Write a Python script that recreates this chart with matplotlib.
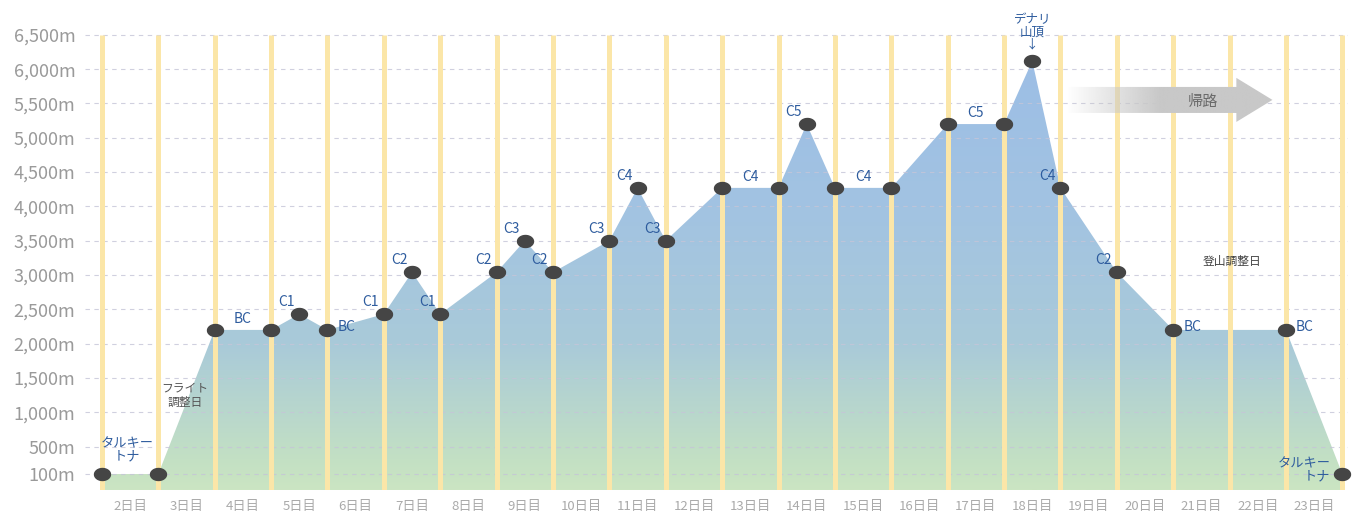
import numpy as np
import matplotlib.pyplot as plt
from matplotlib.path import Path
from matplotlib.patches import Polygon
from matplotlib.colors import LinearSegmentedColormap, to_rgb

plt.rcParams['font.family'] = ['Noto Sans CJK JP', 'DejaVu Sans']

# altitude profile: position in day-boundary units, altitude (m)
pos = [0, 1, 2, 3, 3.5, 4, 5, 5.5, 6, 7, 7.5, 8, 9, 9.5, 10, 11, 12, 12.5, 13,
       14, 15, 16, 16.5, 17, 18, 19, 21, 22]
alt = [100, 100, 2200, 2200, 2430, 2200, 2430, 3040, 2430, 3040, 3500, 3040,
       3500, 4270, 3500, 4270, 4270, 5200, 4270, 4270, 5200, 5200, 6120, 4270,
       3040, 2200, 2200, 100]
# label for each point ("" = none)
point_labels = ["タルキー\nトナ", "", "", "", "C1", "BC", "C1", "C2", "C1", "C2",
                "C3", "C2", "C3", "C4", "C3", "", "", "C5", "", "", "", "",
                "デナリ\n山頂\n↓", "C4", "C2", "BC", "BC", "タルキー\nトナ"]
# camps where the stay spans a whole day
stay_start = [2, 11, 13, 15]
stay_alt = [2200, 4270, 4270, 5200]
stay_names = ["BC", "C4", "C4", "C5"]

day_labels = [f"{d}日目" for d in range(2, 24)]
ytick_vals = [100, 500, 1000, 1500, 2000, 2500, 3000, 3500, 4000, 4500, 5000, 5500, 6000, 6500]
ytick_labels = [f"{v:,}m" for v in ytick_vals]

notes = ["フライト\n調整日", "登山調整日"]
return_label = "帰路"

YMIN, YMAX = -133, 6600
XMIN, XMAX = -0.3, 22.1

fig = plt.figure(figsize=(13.6, 5.13), dpi=100)
ax = fig.add_axes([85 / 1360, 23 / 513, (1348 - 85) / 1360, (490 - 28) / 513])
ax.set_xlim(XMIN, XMAX)
ax.set_ylim(YMIN, YMAX)

# gradient filled area
verts = [(pos[0], YMIN)] + list(zip(pos, alt)) + [(pos[-1], YMIN)]
poly = Polygon(verts, closed=True, facecolor='none', edgecolor='none')
ax.add_patch(poly)

def frac(v):
    return (v - YMIN) / (YMAX - YMIN)

cmap = LinearSegmentedColormap.from_list(
    'alt', [(0, '#cbe5c2'), (frac(300), '#c3e0c4'), (frac(2000), '#a9cad9'),
            (frac(4000), '#a2c3e2'), (1, '#9bbde6')])
grad = np.linspace(0, 1, 256).reshape(-1, 1)
im = ax.imshow(grad, cmap=cmap, origin='lower', aspect='auto',
               extent=[XMIN, XMAX, YMIN, YMAX], zorder=1)
im.set_clip_path(poly)

# grid
ax.set_yticks(ytick_vals)
ax.set_yticklabels(ytick_labels)
ax.set_axisbelow(False)
ax.yaxis.grid(True, linestyle=(0, (4, 4)), color='#c5c5d8', lw=0.8, alpha=0.8)
ax.xaxis.grid(False)

# yellow day lines
ax.vlines(np.arange(23), YMIN, 6500, color='#fbe6a8', lw=3.6, zorder=3)

# dots
t = np.linspace(0, 2 * np.pi, 40)
ell = Path(np.column_stack([np.cos(t), 0.75 * np.sin(t)]))
ax.plot(pos, alt, linestyle='none', marker=ell, markersize=11.5,
        color='#454545', zorder=5, clip_on=False)

blue = '#2e5c9e'
for x, y, lab in zip(pos, alt, point_labels):
    if not lab:
        continue
    if lab == "BC":
        ax.annotate(lab, (x, y), xytext=(10, 3), textcoords='offset pixels',
                    ha='left', va='center', color=blue, fontsize=10, zorder=6)
    elif lab.startswith("タルキー") and x == pos[0]:
        ax.annotate(lab, (x, y), xytext=(25, 24), textcoords='offset pixels',
                    ha='center', va='center', color=blue, fontsize=9.5,
                    linespacing=1.0, zorder=6)
    elif lab.startswith("タルキー"):
        ax.annotate(lab, (x, y), xytext=(-12, 4), textcoords='offset pixels',
                    ha='right', va='center', color=blue, fontsize=9.5,
                    linespacing=1.0, multialignment='right', zorder=6)
    elif lab.startswith("デナリ"):
        ax.annotate(lab, (x, y), xytext=(0, 29), textcoords='offset pixels',
                    ha='center', va='center', color=blue, fontsize=9,
                    linespacing=0.95, zorder=6, annotation_clip=False)
    else:
        ax.annotate(lab, (x, y), xytext=(-13, 12), textcoords='offset pixels',
                    ha='center', va='center', color=blue, fontsize=10, zorder=6)

for x, y, lab in zip(stay_start, stay_alt, stay_names):
    ax.annotate(lab, (x + 0.5, y), xytext=(0, 11), textcoords='offset pixels',
                ha='center', va='center', color=blue, fontsize=10, zorder=6)

# notes
ax.text(1.47, 1250, notes[0], ha='center', va='center', fontsize=8.5,
        color='#555555', linespacing=1.15, zorder=6)
ax.text(20.04, 3205, notes[1], ha='center', va='center', fontsize=8.5,
        color='#444444', zorder=6)

# return arrow with gradient
ax_verts = [(17.11, 5741), (20.12, 5741), (20.12, 5873), (20.76, 5552),
            (20.12, 5231), (20.12, 5362), (17.11, 5362)]
arrow = Polygon(ax_verts, closed=True, facecolor='none', edgecolor='none')
ax.add_patch(arrow)
n = 256
rgba = np.zeros((1, n, 4))
rgba[..., :3] = to_rgb('#c8c8c8')
rgba[0, :, 3] = np.clip(np.linspace(0, 1, n) / 0.45, 0, 1)
aim = ax.imshow(rgba, origin='lower', aspect='auto',
                extent=[17.11, 20.76, 5231, 5873], zorder=4)
aim.set_clip_path(arrow)
ax.text(19.52, 5530, return_label, ha='center', va='center', fontsize=11,
        color='#6a6a6a', zorder=6)

# axes styling
ax.set_xticks(np.arange(22) + 0.5)
ax.set_xticklabels(day_labels)
ax.tick_params(axis='x', length=0, pad=7, labelsize=9.5, labelcolor='#aaaaaa')
ax.tick_params(axis='y', length=0, pad=7, labelsize=13, labelcolor='#9a9a9a')
for s in ax.spines.values():
    s.set_visible(False)
ax.set_xlim(XMIN, XMAX)
ax.set_ylim(YMIN, YMAX)

fig.savefig('out.png', dpi=100)
